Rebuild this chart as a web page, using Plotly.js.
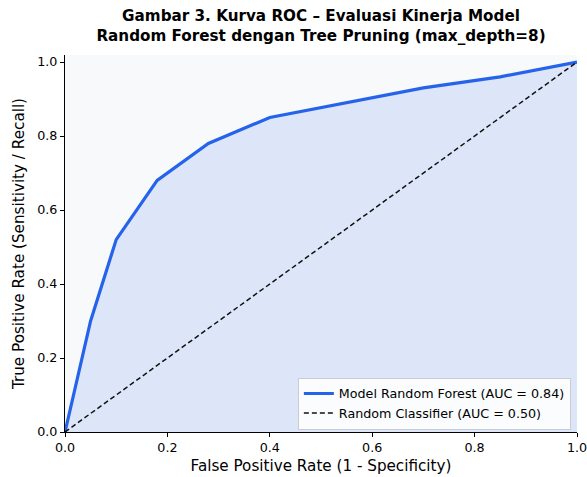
<!DOCTYPE html>
<html>
<head>
<meta charset="utf-8">
<script src="https://cdn.plot.ly/plotly-3.0.1.min.js"></script>
<style>body{margin:0;background:#fff;}#chart{width:587px;height:477px;}</style>
</head>
<body>
<div id="chart"></div>
<script>
var fpr = [0, 0.05, 0.10, 0.18, 0.28, 0.40, 0.70, 0.85, 1.0];
var tpr = [0, 0.30, 0.52, 0.68, 0.78, 0.85, 0.93, 0.96, 1.0];
var diagX = [0, 1];
var diagY = [0, 1];
var modelName = 'Model Random Forest (AUC = 0.84)';
var randomName = 'Random Classifier (AUC = 0.50)';

var font = 'DejaVu Sans, sans-serif';
var traces = [
  {x: fpr, y: tpr, type: 'scatter', mode: 'lines', showlegend: false, hoverinfo: 'skip',
   line: {color: 'rgba(0,0,0,0)', width: 0}, fill: 'tozeroy', fillcolor: 'rgba(37,99,235,0.12)'},
  {x: fpr, y: tpr, type: 'scatter', mode: 'lines', name: modelName,
   line: {color: '#2563eb', width: 3.2}},
  {x: diagX, y: diagY, type: 'scatter', mode: 'lines', name: randomName,
   line: {color: '#111111', width: 1.5, dash: '5px,3px'}}
];
var layout = {
  width: 587, height: 477,
  margin: {l: 65, r: 10, t: 55, b: 45},
  paper_bgcolor: '#ffffff', plot_bgcolor: '#f8f9fb',
  font: {family: font, size: 12.7, color: '#000'},
  title: {text: '<b>Gambar 3. Kurva ROC – Evaluasi Kinerja Model<br>Random Forest dengan Tree Pruning (max_depth=8)</b>',
          x: 0.5, xanchor: 'center', xref: 'paper', yref: 'container', y: 0.956, yanchor: 'top',
          font: {family: font, size: 15.2, color: '#000'}},
  xaxis: {range: [0, 1], showgrid: false, zeroline: false, showline: true, linecolor: '#000', linewidth: 1,
          ticks: 'outside', ticklen: 4, tickcolor: '#000', tickvals: [0, 0.2, 0.4, 0.6, 0.8, 1.0],
          ticktext: ['0.0', '0.2', '0.4', '0.6', '0.8', '1.0'], tickfont: {size: 12.7}, ticklabeloverflow: 'allow',
          title: {text: 'False Positive Rate (1 - Specificity)', font: {size: 15.2}, standoff: 6}},
  yaxis: {range: [0, 1.019], showgrid: false, zeroline: false, showline: true, linecolor: '#000', linewidth: 1,
          ticks: 'outside', ticklen: 4, tickcolor: '#000', tickvals: [0, 0.2, 0.4, 0.6, 0.8, 1.0],
          ticktext: ['0.0', '0.2', '0.4', '0.6', '0.8', '1.0'], tickfont: {size: 12.7},
          title: {text: 'True Positive Rate (Sensitivity / Recall)', font: {size: 15.2}, standoff: 8}},
  showlegend: true,
  legend: {x: 0.988, y: 0.006, xanchor: 'right', yanchor: 'bottom', bgcolor: 'rgba(255,255,255,0.85)',
           bordercolor: '#cccccc', borderwidth: 1, font: {size: 12.7}, tracegroupgap: 0}
};
Plotly.newPlot('chart', traces, layout, {displayModeBar: false, staticPlot: true});
</script>
</body>
</html>
